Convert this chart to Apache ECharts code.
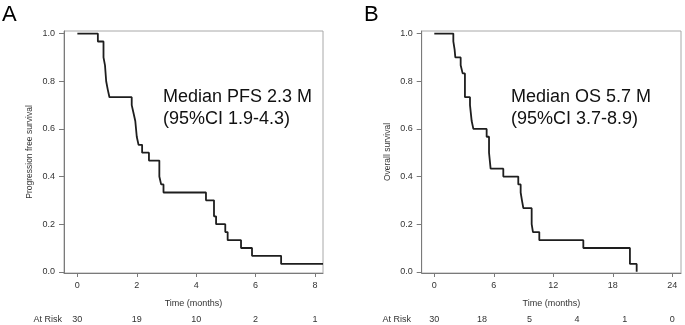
<!DOCTYPE html>
<html>
<head>
<meta charset="utf-8">
<script src="https://cdn.jsdelivr.net/npm/echarts@6/dist/echarts.min.js"></script>
<style>
  html, body { margin: 0; padding: 0; background: #fff; }
  #chart { width: 685px; height: 325px; }
</style>
</head>
<body>
<div id="chart"></div>
<script>
// Kaplan-Meier steps (time in months, survival after the drop)
var pfsTime = [0, 0.69, 0.88, 0.93, 0.97, 1.02, 1.08, 1.83, 1.89, 1.95, 2.00, 2.06, 2.18, 2.41, 2.76, 2.82, 2.90, 4.33, 4.60, 4.67, 4.98, 5.06, 5.51, 5.88, 6.86, 8.27];
var pfsSurv = [1, 0.967, 0.9, 0.867, 0.8, 0.767, 0.733, 0.7, 0.667, 0.633, 0.567, 0.533, 0.5, 0.467, 0.4, 0.367, 0.333, 0.3, 0.233, 0.2, 0.167, 0.133, 0.1, 0.067, 0.033, 0.033];

var osTime = [0, 1.92, 2.05, 2.12, 2.66, 2.86, 3.09, 3.60, 3.77, 3.94, 5.28, 5.52, 5.68, 6.96, 8.47, 8.71, 8.84, 8.98, 9.82, 9.95, 10.59, 15.03, 19.73, 20.41];
var osSurv = [1, 0.967, 0.933, 0.9, 0.867, 0.833, 0.733, 0.7, 0.633, 0.6, 0.567, 0.5, 0.433, 0.4, 0.367, 0.333, 0.3, 0.267, 0.2, 0.167, 0.133, 0.1, 0.033, 0];

// axis ticks
var ticksA = [0, 2, 4, 6, 8];
var ticksB = [0, 6, 12, 18, 24];
var ticksY = [0, 0.2, 0.4, 0.6, 0.8, 1.0];

// numbers at risk (B's row is spaced every 4.8 months, not at the ticks)
var riskTimesA = [0, 2, 4, 6, 8];
var atRiskA = [30, 19, 10, 2, 1];
var riskTimesB = [0, 4.8, 9.6, 14.4, 19.2, 24];
var atRiskB = [30, 18, 5, 4, 1, 0];

var FONT = 'Liberation Sans, Arial, sans-serif';
var AXIS_GREY = '#7a7a7a';

function pairs(xs, ys){
    return xs.map(function(x, i){ return [x, ys[i]]; });
}

// main x axis of a panel
function timeAxis(grid, min, max, ticks){
    return {
        type: 'value', gridIndex: grid, min: min, max: max,
        name: 'Time (months)', nameLocation: 'middle', nameGap: 26,
        nameTextStyle: {fontFamily: FONT, fontSize: 9, color: '#333'},
        axisLine: {onZero: false, lineStyle: {color: AXIS_GREY, width: 1}},
        axisTick: {show: true, length: 4, customValues: ticks, lineStyle: {color: AXIS_GREY}},
        axisLabel: {customValues: ticks, margin: 8, fontFamily: FONT, fontSize: 9, color: '#333'},
        splitLine: {show: false}
    };
}

// second x axis, only used for the "at risk" numbers
function riskAxis(grid, min, max, times, counts){
    return {
        type: 'value', gridIndex: grid, min: min, max: max, position: 'bottom', offset: 37,
        axisLine: {show: false}, axisTick: {show: false}, splitLine: {show: false},
        axisLabel: {
            customValues: times, margin: 5, fontFamily: FONT, fontSize: 9, color: '#333',
            formatter: function(v){
                var i = times.indexOf(v);
                return i >= 0 ? String(counts[i]) : '';
            }
        }
    };
}

function survAxis(grid, name){
    return {
        type: 'value', gridIndex: grid, min: -0.005, max: 1.011,
        name: name, nameLocation: 'middle', nameGap: 30,
        nameTextStyle: {fontFamily: FONT, fontSize: 8.5, color: '#333'},
        axisLine: {onZero: false, lineStyle: {color: AXIS_GREY, width: 1}},
        axisTick: {show: true, length: 5, customValues: ticksY, lineStyle: {color: AXIS_GREY}},
        axisLabel: {
            customValues: ticksY, margin: 9, fontFamily: FONT, fontSize: 9, color: '#333',
            formatter: function(v){ return v.toFixed(1); }
        },
        splitLine: {show: false}
    };
}

function kmSeries(idx, data){
    return {
        type: 'line', xAxisIndex: idx, yAxisIndex: idx, step: 'end',
        data: data, showSymbol: false, silent: true, animation: false,
        lineStyle: {color: '#1e1e1e', width: 1.8}
    };
}

var chart = echarts.init(document.getElementById('chart'), null, {renderer: 'canvas'});

var option = {
    backgroundColor: '#fff',
    animation: false,
    grid: [
        {left: 64, top: 31, width: 259, height: 242, show: true, borderColor: '#a8a8a8', borderWidth: 1, backgroundColor: 'transparent'},
        {left: 421.7, top: 31, width: 259.3, height: 242, show: true, borderColor: '#a8a8a8', borderWidth: 1, backgroundColor: 'transparent'}
    ],
    xAxis: [
        timeAxis(0, -0.45, 8.27, ticksA),
        timeAxis(1, -1.27, 24.88, ticksB),
        riskAxis(0, -0.45, 8.27, riskTimesA, atRiskA),
        riskAxis(1, -1.27, 24.88, riskTimesB, atRiskB)
    ],
    yAxis: [
        survAxis(0, 'Progression free survival'),
        survAxis(1, 'Overall survival')
    ],
    series: [
        kmSeries(0, pairs(pfsTime, pfsSurv)),
        kmSeries(1, pairs(osTime, osSurv))
    ],
    graphic: [
        {type: 'text', left: 2, top: 4, style: {text: 'A', font: '22px ' + FONT, fill: '#000'}},
        {type: 'text', left: 364, top: 4, style: {text: 'B', font: '22px ' + FONT, fill: '#000'}},
        {type: 'text', left: 163, top: 86, style: {text: 'Median PFS 2.3 M\n(95%CI 1.9-4.3)', font: '18px ' + FONT, lineHeight: 22, fill: '#111'}},
        {type: 'text', left: 511, top: 86, style: {text: 'Median OS 5.7 M\n(95%CI 3.7-8.9)', font: '18px ' + FONT, lineHeight: 22, fill: '#111'}},
        {type: 'text', right: 685 - 62, top: 315, style: {text: 'At Risk', font: '9px ' + FONT, fill: '#333', align: 'right'}},
        {type: 'text', right: 685 - 411, top: 315, style: {text: 'At Risk', font: '9px ' + FONT, fill: '#333', align: 'right'}}
    ]
};

chart.setOption(option);
</script>
</body>
</html>
